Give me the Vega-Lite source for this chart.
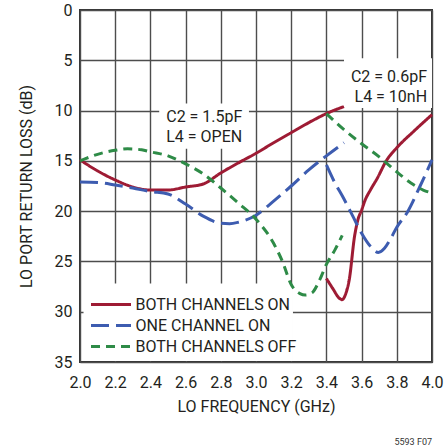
{
  "$schema": "https://vega.github.io/schema/vega-lite/v6.json",
  "autosize": "none",
  "width": 352,
  "height": 352,
  "padding": {"left": 80, "top": 10, "right": 13, "bottom": 85},
  "background": "white",
  "config": {
    "font": "Roboto",
    "view": {"stroke": "#333333", "strokeWidth": 2},
    "axis": {
      "domain": false,
      "ticks": false,
      "grid": true,
      "gridColor": "#4d4d4d",
      "gridWidth": 1.4,
      "gridOpacity": 1,
      "labelFont": "Roboto",
      "labelFontSize": 16,
      "labelColor": "#231f20",
      "labelOverlap": false,
      "titleFont": "Roboto",
      "titleFontSize": 16,
      "titleFontWeight": "normal",
      "titleColor": "#231f20"
    }
  },
  "title": {
    "text": "5593 F07",
    "orient": "bottom",
    "anchor": "end",
    "frame": "group",
    "fontSize": 9,
    "fontWeight": "normal",
    "color": "#333333",
    "font": "Roboto",
    "offset": 24
  },
  "datasets": {
    "curves": [
      {"f": 2.0, "rl": 14.9, "s": "BOTH CHANNELS ON", "g": "A"},
      {"f": 2.1, "rl": 16.0, "s": "BOTH CHANNELS ON", "g": "A"},
      {"f": 2.2, "rl": 16.9, "s": "BOTH CHANNELS ON", "g": "A"},
      {"f": 2.3, "rl": 17.6, "s": "BOTH CHANNELS ON", "g": "A"},
      {"f": 2.4, "rl": 17.9, "s": "BOTH CHANNELS ON", "g": "A"},
      {"f": 2.5, "rl": 17.9, "s": "BOTH CHANNELS ON", "g": "A"},
      {"f": 2.6, "rl": 17.6, "s": "BOTH CHANNELS ON", "g": "A"},
      {"f": 2.7, "rl": 17.3, "s": "BOTH CHANNELS ON", "g": "A"},
      {"f": 2.8, "rl": 16.2, "s": "BOTH CHANNELS ON", "g": "A"},
      {"f": 2.9, "rl": 15.2, "s": "BOTH CHANNELS ON", "g": "A"},
      {"f": 3.0, "rl": 14.25, "s": "BOTH CHANNELS ON", "g": "A"},
      {"f": 3.1, "rl": 13.2, "s": "BOTH CHANNELS ON", "g": "A"},
      {"f": 3.2, "rl": 12.2, "s": "BOTH CHANNELS ON", "g": "A"},
      {"f": 3.3, "rl": 11.2, "s": "BOTH CHANNELS ON", "g": "A"},
      {"f": 3.4, "rl": 10.3, "s": "BOTH CHANNELS ON", "g": "A"},
      {"f": 3.5, "rl": 9.6, "s": "BOTH CHANNELS ON", "g": "A"},

      {"f": 2.0, "rl": 17.1, "s": "ONE CHANNEL ON", "g": "A"},
      {"f": 2.1, "rl": 17.15, "s": "ONE CHANNEL ON", "g": "A"},
      {"f": 2.2, "rl": 17.4, "s": "ONE CHANNEL ON", "g": "A"},
      {"f": 2.3, "rl": 17.7, "s": "ONE CHANNEL ON", "g": "A"},
      {"f": 2.4, "rl": 18.05, "s": "ONE CHANNEL ON", "g": "A"},
      {"f": 2.5, "rl": 18.3, "s": "ONE CHANNEL ON", "g": "A"},
      {"f": 2.6, "rl": 19.3, "s": "ONE CHANNEL ON", "g": "A"},
      {"f": 2.7, "rl": 20.5, "s": "ONE CHANNEL ON", "g": "A"},
      {"f": 2.8, "rl": 21.2, "s": "ONE CHANNEL ON", "g": "A"},
      {"f": 2.85, "rl": 21.25, "s": "ONE CHANNEL ON", "g": "A"},
      {"f": 2.9, "rl": 21.1, "s": "ONE CHANNEL ON", "g": "A"},
      {"f": 3.0, "rl": 20.4, "s": "ONE CHANNEL ON", "g": "A"},
      {"f": 3.1, "rl": 19.0, "s": "ONE CHANNEL ON", "g": "A"},
      {"f": 3.2, "rl": 17.5, "s": "ONE CHANNEL ON", "g": "A"},
      {"f": 3.3, "rl": 15.9, "s": "ONE CHANNEL ON", "g": "A"},
      {"f": 3.4, "rl": 14.5, "s": "ONE CHANNEL ON", "g": "A"},
      {"f": 3.5, "rl": 13.2, "s": "ONE CHANNEL ON", "g": "A"},

      {"f": 2.0, "rl": 15.0, "s": "BOTH CHANNELS OFF", "g": "A"},
      {"f": 2.1, "rl": 14.35, "s": "BOTH CHANNELS OFF", "g": "A"},
      {"f": 2.2, "rl": 13.95, "s": "BOTH CHANNELS OFF", "g": "A"},
      {"f": 2.27, "rl": 13.8, "s": "BOTH CHANNELS OFF", "g": "A"},
      {"f": 2.35, "rl": 13.9, "s": "BOTH CHANNELS OFF", "g": "A"},
      {"f": 2.4, "rl": 14.1, "s": "BOTH CHANNELS OFF", "g": "A"},
      {"f": 2.5, "rl": 14.5, "s": "BOTH CHANNELS OFF", "g": "A"},
      {"f": 2.6, "rl": 15.3, "s": "BOTH CHANNELS OFF", "g": "A"},
      {"f": 2.7, "rl": 16.3, "s": "BOTH CHANNELS OFF", "g": "A"},
      {"f": 2.8, "rl": 17.7, "s": "BOTH CHANNELS OFF", "g": "A"},
      {"f": 2.9, "rl": 19.2, "s": "BOTH CHANNELS OFF", "g": "A"},
      {"f": 3.0, "rl": 20.8, "s": "BOTH CHANNELS OFF", "g": "A"},
      {"f": 3.1, "rl": 23.2, "s": "BOTH CHANNELS OFF", "g": "A"},
      {"f": 3.15, "rl": 25.0, "s": "BOTH CHANNELS OFF", "g": "A"},
      {"f": 3.2, "rl": 27.3, "s": "BOTH CHANNELS OFF", "g": "A"},
      {"f": 3.25, "rl": 28.2, "s": "BOTH CHANNELS OFF", "g": "A"},
      {"f": 3.28, "rl": 28.35, "s": "BOTH CHANNELS OFF", "g": "A"},
      {"f": 3.32, "rl": 28.1, "s": "BOTH CHANNELS OFF", "g": "A"},
      {"f": 3.36, "rl": 26.9, "s": "BOTH CHANNELS OFF", "g": "A"},
      {"f": 3.4, "rl": 25.3, "s": "BOTH CHANNELS OFF", "g": "A"},
      {"f": 3.45, "rl": 23.8, "s": "BOTH CHANNELS OFF", "g": "A"},
      {"f": 3.49, "rl": 22.4, "s": "BOTH CHANNELS OFF", "g": "A"},

      {"f": 3.4, "rl": 26.7, "s": "BOTH CHANNELS ON", "g": "B"},
      {"f": 3.44, "rl": 27.8, "s": "BOTH CHANNELS ON", "g": "B"},
      {"f": 3.47, "rl": 28.6, "s": "BOTH CHANNELS ON", "g": "B"},
      {"f": 3.49, "rl": 28.8, "s": "BOTH CHANNELS ON", "g": "B"},
      {"f": 3.51, "rl": 28.2, "s": "BOTH CHANNELS ON", "g": "B"},
      {"f": 3.53, "rl": 26.8, "s": "BOTH CHANNELS ON", "g": "B"},
      {"f": 3.56, "rl": 22.5, "s": "BOTH CHANNELS ON", "g": "B"},
      {"f": 3.58, "rl": 20.8, "s": "BOTH CHANNELS ON", "g": "B"},
      {"f": 3.6, "rl": 19.9, "s": "BOTH CHANNELS ON", "g": "B"},
      {"f": 3.62, "rl": 18.9, "s": "BOTH CHANNELS ON", "g": "B"},
      {"f": 3.65, "rl": 17.9, "s": "BOTH CHANNELS ON", "g": "B"},
      {"f": 3.69, "rl": 16.7, "s": "BOTH CHANNELS ON", "g": "B"},
      {"f": 3.74, "rl": 15.0, "s": "BOTH CHANNELS ON", "g": "B"},
      {"f": 3.8, "rl": 13.7, "s": "BOTH CHANNELS ON", "g": "B"},
      {"f": 3.9, "rl": 12.0, "s": "BOTH CHANNELS ON", "g": "B"},
      {"f": 4.0, "rl": 10.4, "s": "BOTH CHANNELS ON", "g": "B"},

      {"f": 3.4, "rl": 15.4, "s": "ONE CHANNEL ON", "g": "B"},
      {"f": 3.44, "rl": 16.9, "s": "ONE CHANNEL ON", "g": "B"},
      {"f": 3.5, "rl": 18.8, "s": "ONE CHANNEL ON", "g": "B"},
      {"f": 3.55, "rl": 20.5, "s": "ONE CHANNEL ON", "g": "B"},
      {"f": 3.6, "rl": 22.2, "s": "ONE CHANNEL ON", "g": "B"},
      {"f": 3.65, "rl": 23.5, "s": "ONE CHANNEL ON", "g": "B"},
      {"f": 3.695, "rl": 24.1, "s": "ONE CHANNEL ON", "g": "B"},
      {"f": 3.73, "rl": 23.7, "s": "ONE CHANNEL ON", "g": "B"},
      {"f": 3.76, "rl": 22.9, "s": "ONE CHANNEL ON", "g": "B"},
      {"f": 3.8, "rl": 21.6, "s": "ONE CHANNEL ON", "g": "B"},
      {"f": 3.86, "rl": 20.1, "s": "ONE CHANNEL ON", "g": "B"},
      {"f": 3.93, "rl": 17.6, "s": "ONE CHANNEL ON", "g": "B"},
      {"f": 4.0, "rl": 14.9, "s": "ONE CHANNEL ON", "g": "B"},

      {"f": 3.4, "rl": 10.3, "s": "BOTH CHANNELS OFF", "g": "B"},
      {"f": 3.5, "rl": 11.9, "s": "BOTH CHANNELS OFF", "g": "B"},
      {"f": 3.6, "rl": 13.3, "s": "BOTH CHANNELS OFF", "g": "B"},
      {"f": 3.7, "rl": 14.6, "s": "BOTH CHANNELS OFF", "g": "B"},
      {"f": 3.8, "rl": 16.1, "s": "BOTH CHANNELS OFF", "g": "B"},
      {"f": 3.88, "rl": 17.2, "s": "BOTH CHANNELS OFF", "g": "B"},
      {"f": 3.95, "rl": 17.9, "s": "BOTH CHANNELS OFF", "g": "B"},
      {"f": 4.0, "rl": 18.2, "s": "BOTH CHANNELS OFF", "g": "B"}
    ],
    "boxes": [
      {"f": 2.45, "f2": 2.96, "rl": 9.3, "rl2": 13.8},
      {"f": 3.5, "f2": 4.0, "rl": 4.8, "rl2": 9.75},
      {"f": 2.02, "f2": 3.21, "rl": 27.2, "rl2": 34.9}
    ],
    "notes": [
      {"f": 2.49, "rl": 10.6, "t": "C2 = 1.5pF", "a": "left"},
      {"f": 2.49, "rl": 12.6, "t": "L4 = OPEN", "a": "left"},
      {"f": 3.972, "rl": 6.63, "t": "C2 = 0.6pF", "a": "right"},
      {"f": 3.972, "rl": 8.62, "t": "L4 = 10nH", "a": "right"}
    ]
  },
  "encoding": {
    "x": {
      "field": "f", "type": "quantitative",
      "scale": {"domain": [2.0, 4.0], "nice": false, "zero": false},
      "axis": {
        "title": "LO FREQUENCY (GHz)",
        "values": [2.0, 2.2, 2.4, 2.6, 2.8, 3.0, 3.2, 3.4, 3.6, 3.8, 4.0],
        "format": ".1f",
        "labelPadding": 12,
        "titlePadding": 8,
        "labelFlush": false,
        "labelOverlap": false,
        "labelSeparation": 0
      }
    },
    "y": {
      "field": "rl", "type": "quantitative",
      "scale": {"domain": [0, 35], "reverse": true, "nice": false},
      "axis": {
        "title": "LO PORT RETURN LOSS (dB)",
        "values": [0, 5, 10, 15, 20, 25, 30, 35],
        "labelPadding": 8,
        "titlePadding": 20,
        "labelFlush": false,
        "labelOverlap": false
      }
    }
  },
  "layer": [
    {
      "data": {"name": "boxes"},
      "mark": {"type": "rect", "fill": "white", "stroke": null},
      "encoding": {
        "x2": {"field": "f2"},
        "y2": {"field": "rl2"}
      }
    },
    {
      "data": {"name": "curves"},
      "mark": {"type": "line", "interpolate": "monotone", "strokeWidth": 3},
      "encoding": {
        "color": {
          "field": "s", "type": "nominal",
          "scale": {
            "domain": ["BOTH CHANNELS ON", "ONE CHANNEL ON", "BOTH CHANNELS OFF"],
            "range": ["#9e1b34", "#3d5cb0", "#2e8b47"]
          },
          "legend": {
            "title": null,
            "orient": "none",
            "legendX": 4.5,
            "legendY": 272,
            "padding": 11,
            "rowPadding": 1,
            "labelFont": "Roboto",
            "labelFontSize": 16,
            "labelColor": "#231f20",
            "labelOffset": 17,
            "symbolType": "M-1.6,0H2.4",
            "symbolSize": 400,
            "symbolStrokeWidth": 3,
            "labelLimit": 300
          }
        },
        "strokeDash": {
          "field": "s", "type": "nominal",
          "scale": {
            "domain": ["BOTH CHANNELS ON", "ONE CHANNEL ON", "BOTH CHANNELS OFF"],
            "range": [[1, 0], [18, 7], [9, 6]]
          },
          "legend": null
        },
        "detail": {"field": "g", "type": "nominal"},
        "order": {"field": "f", "type": "quantitative"}
      }
    },
    {
      "data": {"name": "notes"},
      "transform": [{"filter": "datum.a == 'left'"}],
      "mark": {"type": "text", "fontSize": 16, "font": "Roboto", "color": "#231f20", "baseline": "middle", "align": "left"},
      "encoding": {
        "text": {"field": "t"}
      }
    },
    {
      "data": {"name": "notes"},
      "transform": [{"filter": "datum.a == 'right'"}],
      "mark": {"type": "text", "fontSize": 16, "font": "Roboto", "color": "#231f20", "baseline": "middle", "align": "right"},
      "encoding": {
        "text": {"field": "t"}
      }
    }
  ]
}
